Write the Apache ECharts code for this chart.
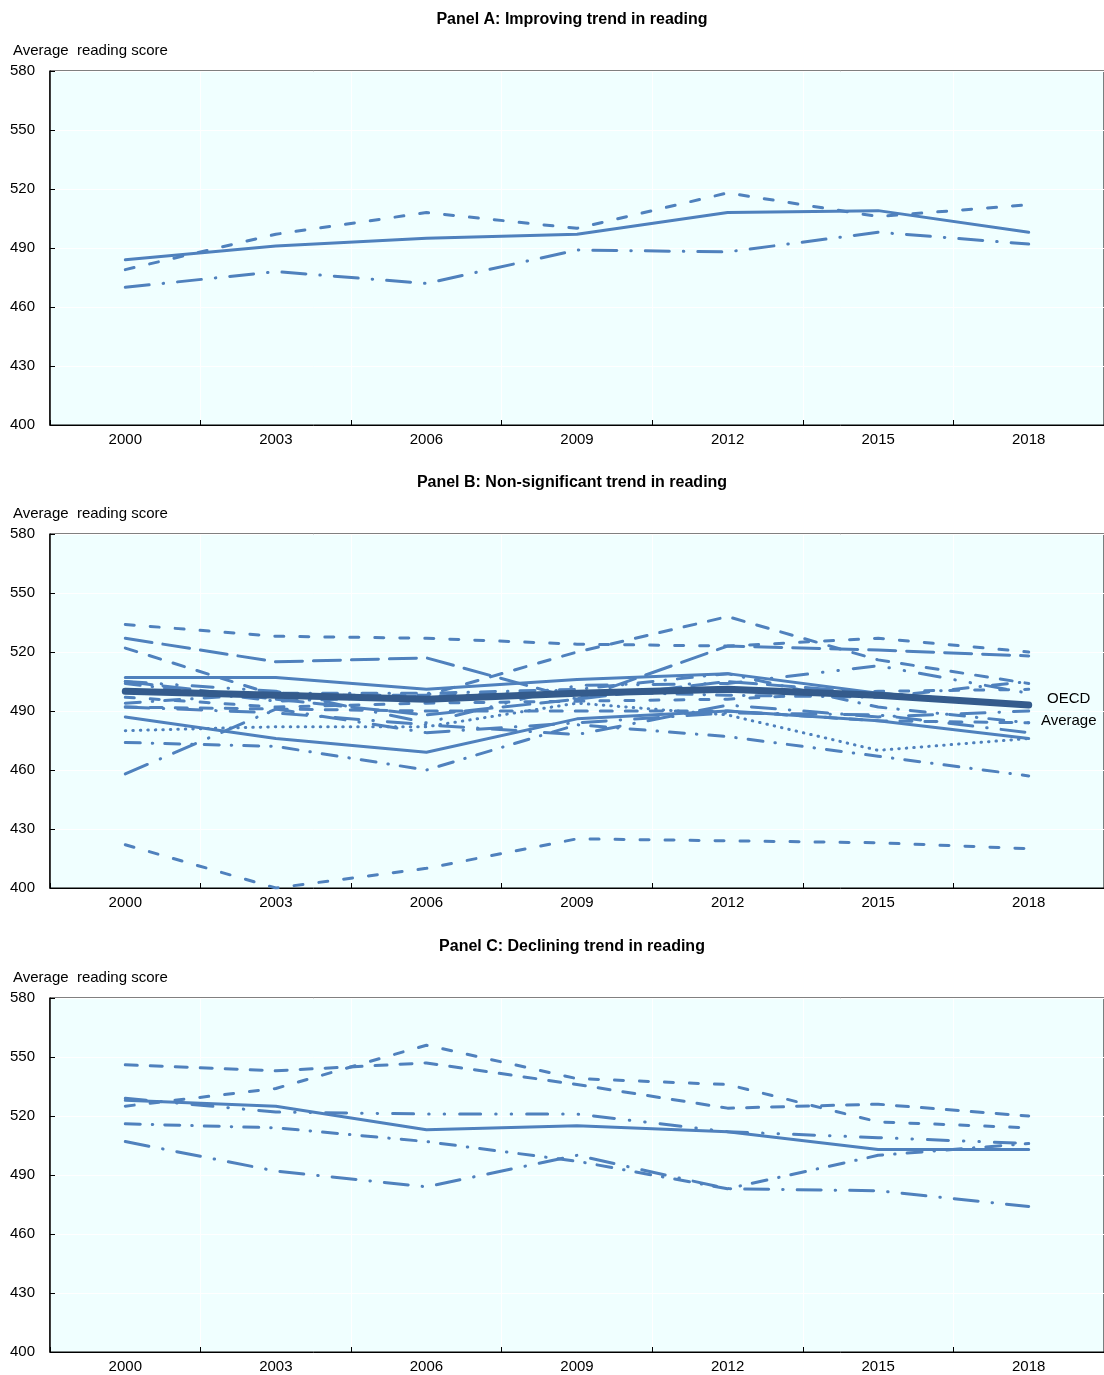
<!DOCTYPE html>
<html>
<head>
<meta charset="utf-8">
<script src="https://cdn.jsdelivr.net/npm/echarts@6/dist/echarts.min.js"></script>
<style>
  html, body { margin: 0; padding: 0; background: #ffffff; }
  #chart { width: 1104px; height: 1375px; }
</style>
</head>
<body>
<div id="chart"></div>
<script>
// PISA reading cycles
const years = ['2000', '2003', '2006', '2009', '2012', '2015', '2018'];
const scoreMin = 400;
const scoreMax = 580;
const scoreStep = 30;

// Panel A: improving trend
const germany  = [484, 491, 495, 497, 508, 509, 498];
const poland   = [479, 497, 508, 500, 518, 506, 512];
const portugal = [470, 478, 472, 489, 488, 498, 492];

// Panel B: non-significant trend
const canada      = [534, 528, 527, 524, 523, 527, 520];
const ireland     = [527, 515, 517, 496, 523, 521, 518];
const japan       = [522, 498, 498, 520, 538, 516, 504];
const belgium     = [507, 507, 501, 506, 509, 499, 493];
const france      = [505, 496, 488, 496, 505, 499, 493];
const norway      = [505, 500, 484, 503, 504, 513, 499];
const unitedStates = [504, 495, null, 500, 498, 497, 505];
const denmark     = [497, 492, 494, 495, 496, 500, 501];
const switzerland = [494, 499, 499, 501, 509, 492, 484];
const austria     = [492, 491, 490, null, 490, 485, 484];
const czechia     = [492, 489, 483, 478, 493, 487, 490];
const italy       = [487, 476, 469, 486, 490, 485, 476];
const hungary     = [480, 482, 482, 494, 488, 470, 476];
const greece      = [474, 472, 460, 483, 477, 467, 457];
const latvia      = [458, 491, 479, 484, 489, 488, 479];
const mexico      = [422, 400, 410, 425, 424, 423, 420];
const oecdAverage = [500, 498, 496, 499, 501, 498, 493];

// Panel C: declining trend
const australia  = [528, 525, 513, 515, 512, 503, 503];
const finland    = [546, 543, 547, 536, 524, 526, 520];
const iceland    = [507, 492, 484, 500, 483, 482, 474];
const korea      = [525, 534, 556, 539, 536, 517, 514];
const newZealand = [529, 522, 521, 521, 512, 509, 506];
const sweden     = [516, 514, 507, 497, 483, 500, 506];

const panelTitles = [
  'Panel A: Improving trend in reading',
  'Panel B: Non-significant trend in reading',
  'Panel C: Declining trend in reading'
];
const axisName = 'Average  reading score';

// ---- styling ----
const FONT = '"Liberation Sans", Arial, sans-serif';
const LINE_BLUE = '#4f81bd';
const AVG_BLUE = '#345b8c';
const DASH = {
  solid: 'solid',
  short: [9, 16],
  medium: [12, 13],
  long: [27, 11],
  dashDot: [15, 12, 0.5, 12],
  longDashDot: [24, 14, 0.5, 14],
  longDashDotDot: [21, 15, 0.5, 15, 0.5, 15],
  dot: [0.5, 7]
};

const gridTops = [71, 534, 998];
const gridHeight = 354;

const panels = [
  [
    { data: germany, dash: DASH.solid },
    { data: poland, dash: DASH.short },
    { data: portugal, dash: DASH.longDashDot }
  ],
  [
    { data: canada, dash: DASH.short },
    { data: ireland, dash: DASH.long },
    { data: japan, dash: DASH.medium },
    { data: belgium, dash: DASH.solid },
    { data: france, dash: DASH.long },
    { data: norway, dash: DASH.longDashDotDot },
    { data: unitedStates, dash: DASH.dashDot },
    { data: denmark, dash: DASH.short },
    { data: switzerland, dash: DASH.dashDot },
    { data: austria, dash: DASH.medium },
    { data: czechia, dash: DASH.longDashDot },
    { data: italy, dash: DASH.solid },
    { data: hungary, dash: DASH.dot },
    { data: greece, dash: DASH.dashDot },
    { data: latvia, dash: DASH.longDashDot },
    { data: mexico, dash: DASH.short }
  ],
  [
    { data: australia, dash: DASH.solid },
    { data: finland, dash: DASH.medium },
    { data: iceland, dash: DASH.longDashDot },
    { data: korea, dash: DASH.short },
    { data: newZealand, dash: DASH.longDashDotDot },
    { data: sweden, dash: DASH.dashDot }
  ]
];

const grids = [], xAxes = [], yAxes = [], series = [], graphics = [];

gridTops.forEach((top, i) => {
  grids.push({
    left: 50, top: top, width: 1056, height: gridHeight,
    show: true, backgroundColor: '#f0ffff',
    borderColor: '#000000', borderWidth: 1
  });
  xAxes.push({
    type: 'category', gridIndex: i, data: years, boundaryGap: true,
    axisLine: { show: true, lineStyle: { color: '#000000', width: 1 } },
    axisTick: { show: true, inside: true, length: 5, lineStyle: { color: '#000000' } },
    axisLabel: { color: '#000000', fontFamily: FONT, fontSize: 15, margin: 7 },
    splitLine: { show: true, lineStyle: { color: '#ffffff', width: 1 } }
  });
  yAxes.push({
    type: 'value', gridIndex: i, min: scoreMin, max: scoreMax, interval: scoreStep,
    axisLine: { show: true, lineStyle: { color: '#000000', width: 1.5 } },
    axisTick: { show: true, inside: true, length: 5, lineStyle: { color: '#000000' } },
    axisLabel: { color: '#000000', fontFamily: FONT, fontSize: 15, margin: 15 },
    splitLine: { show: true, lineStyle: { color: '#ffffff', width: 1 } }
  });
  panels[i].forEach(s => {
    series.push({
      type: 'line', xAxisIndex: i, yAxisIndex: i, data: s.data,
      symbol: 'none', connectNulls: true, silent: true,
      lineStyle: { color: LINE_BLUE, width: 3, type: s.dash, cap: 'round', join: 'round' }
    });
  });
  graphics.push({
    type: 'text', x: 572, y: top - 51,
    style: { text: panelTitles[i], fill: '#000000', font: 'bold 16px ' + FONT,
             align: 'center', verticalAlign: 'middle' }
  });
  graphics.push({
    type: 'text', x: 13, y: top - 20,
    style: { text: axisName, fill: '#000000', font: '15px ' + FONT,
             align: 'left', verticalAlign: 'middle' }
  });
});

// OECD average drawn over the country lines in panel B
series.push({
  type: 'line', xAxisIndex: 1, yAxisIndex: 1, data: oecdAverage,
  symbol: 'none', silent: true, z: 5,
  lineStyle: { color: AVG_BLUE, width: 7, cap: 'round', join: 'round' },
  endLabel: {
    show: true, formatter: 'OECD\nAverage', distance: 40, align: 'center',
    offset: [0, 5],
    color: '#000000', fontFamily: FONT, fontSize: 15, lineHeight: 22
  }
});

const chart = echarts.init(document.getElementById('chart'), null, { renderer: 'canvas' });
chart.setOption({
  animation: false,
  backgroundColor: '#ffffff',
  grid: grids,
  xAxis: xAxes,
  yAxis: yAxes,
  series: series,
  graphic: graphics
});
</script>
</body>
</html>
